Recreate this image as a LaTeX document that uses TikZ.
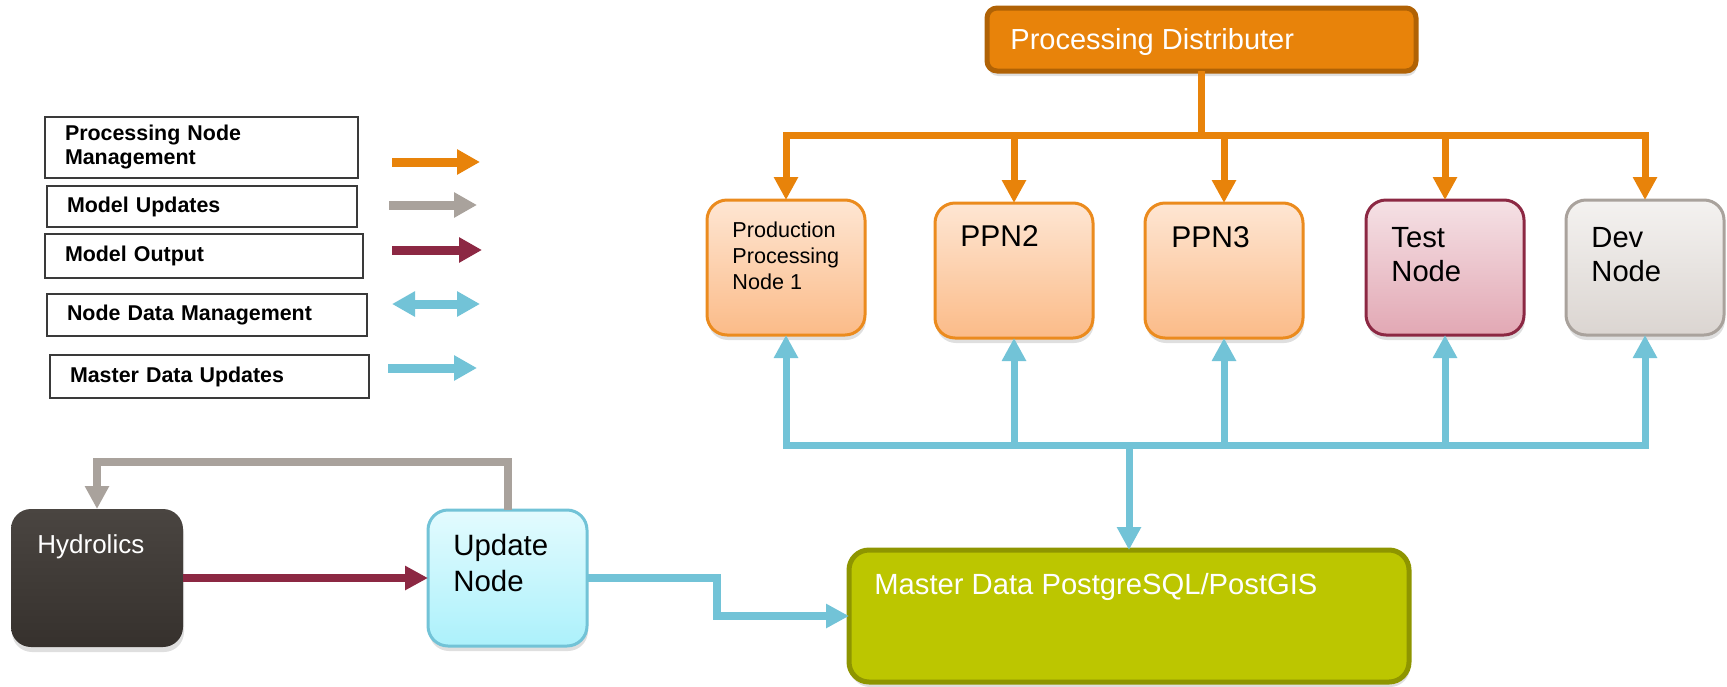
\documentclass[tikz,border=0pt]{standalone}
\usepackage{fontspec}
\setmainfont{Liberation Sans}
\usetikzlibrary{arrows.meta,shadows}
\definecolor{orng}{HTML}{E8830A}
\definecolor{orngdk}{HTML}{B06205}
\definecolor{gry}{HTML}{A9A29C}
\definecolor{mroon}{HTML}{8C2843}
\definecolor{blu}{HTML}{72C3D7}
\definecolor{olive}{HTML}{BCC600}
\definecolor{olivedk}{HTML}{8E9500}
\definecolor{ppnline}{HTML}{EB8B1E}
\definecolor{ppntop}{HTML}{FEE6D3}
\definecolor{ppnbot}{HTML}{FBBB88}
\definecolor{tsttop}{HTML}{F5E1E5}
\definecolor{tstbot}{HTML}{E2A8B4}
\definecolor{devtop}{HTML}{F4F2F0}
\definecolor{devbot}{HTML}{DBD5D1}
\definecolor{hydtop}{HTML}{4A4541}
\definecolor{hydbot}{HTML}{36312D}
\definecolor{updtop}{HTML}{E3FBFE}
\definecolor{updbot}{HTML}{ACF1FB}
\definecolor{legline}{HTML}{3A3A3A}
\tikzset{
  cbox/.style={anchor=north west, inner sep=0pt, outer sep=0pt, rounded corners=10pt, line width=1.5pt,
    drop shadow={shadow xshift=0.5pt, shadow yshift=-2.5pt, opacity=0.25}},
  ppnbox/.style={cbox, draw=ppnline, top color=ppntop, bottom color=ppnbot,
    minimum width=79pt, minimum height=67.5pt},
  legbox/.style={anchor=north west, draw=legline, line width=1pt, inner xsep=10pt, inner ysep=0pt,
    outer sep=0pt, align=left, font=\fontsize{10.7pt}{12pt}\selectfont\bfseries},
  txt/.style={anchor=base west, inner sep=0pt, align=left},
  wire/.style={line width=3.5pt},
  conn/.style={wire, -{Triangle[width=11.5pt,length=11.5pt]}},
  legarr/.style={line width=4.5pt, -{Triangle[width=12pt,length=11.5pt]}},
  legboth/.style={line width=4.5pt, {Triangle[width=12pt,length=11.5pt]}-{Triangle[width=12pt,length=11.5pt]}}
}
\def\LG#1#2#3#4#5{\node[legbox, text width=#3, minimum height=#4] (#1) at #2 {#5};}

\begin{document}
\begin{tikzpicture}[x=0.5pt,y=-0.5pt]
\useasboundingbox (0,0) rectangle (1727,686);

% legend
\LG{lgpnm}{(45,117)}{136.5pt}{30.5pt}{Processing Node\\Management}
\LG{lgmu}{(47,186)}{135pt}{20.5pt}{Model Updates}
\LG{lgmo}{(45,234)}{139pt}{22pt}{Model Output}
\LG{lgndm}{(47,294)}{140pt}{21pt}{Node Data Management}
\LG{lgmdu}{(50,355)}{139.5pt}{21.5pt}{Master Data Updates}
\foreach \n/\xa/\xb/\y/\c/\s in {1/392/480/162/orng/legarr, 2/389/477/205/gry/legarr,
    3/392/482/250/mroon/legarr, 4/392/480/304/blu/legboth, 5/388/477/368/blu/legarr}{
  \coordinate (la\n) at (\xa,\y);
  \coordinate (lb\n) at (\xb,\y);
  \draw[\s,\c] (la\n) -- (lb\n);
}

% processing nodes
\node[cbox, draw=orngdk, fill=orng, line width=2.5pt, rounded corners=5pt,
  minimum width=214.5pt, minimum height=31.5pt] (dist) at (987,8) {};
\node[txt, text=white, font=\fontsize{14.5pt}{17pt}\selectfont] (distT) at (1010,49) {Processing Distributer};
\node[ppnbox] (ppn1) at (707,200) {};
\node[ppnbox] (ppn2) at (935,203) {};
\node[ppnbox] (ppn3) at (1145,203) {};
\node[cbox, draw=mroon, top color=tsttop, bottom color=tstbot,
  minimum width=79pt, minimum height=67.5pt] (test) at (1366,200) {};
\node[cbox, draw=gry, top color=devtop, bottom color=devbot,
  minimum width=79pt, minimum height=67.5pt] (dev) at (1566,200) {};
% multi-line labels sit on their last line
\node[txt, font=\fontsize{10.8pt}{13pt}\selectfont] (ppn1T) at (732,289) {Production\\Processing\\Node 1};
\node[txt, font=\fontsize{15pt}{17pt}\selectfont] (ppn2T) at (960,246) {PPN2};
\node[txt, font=\fontsize{15pt}{17pt}\selectfont] (ppn3T) at (1171,247) {PPN3};
\node[txt, font=\fontsize{14.6pt}{17pt}\selectfont] (testT) at (1391,281) {Test\\Node};
\node[txt, font=\fontsize{14.6pt}{17pt}\selectfont] (devT) at (1591,281) {Dev\\Node};

% data side
\node[cbox, draw=olivedk, fill=olive, line width=2.5pt,
  minimum width=280pt, minimum height=66pt] (master) at (849,550) {};
\node[txt, text=white, font=\fontsize{14.6pt}{17pt}\selectfont] (masterT) at (874,594) {Master Data PostgreSQL/PostGIS};
\node[cbox, top color=hydtop, bottom color=hydbot,
  minimum width=86pt, minimum height=69pt] (hyd) at (11,509) {};
\node[txt, text=white, font=\fontsize{13pt}{15pt}\selectfont] (hydT) at (37,553) {Hydrolics};
\node[cbox, draw=blu, top color=updtop, bottom color=updbot,
  minimum width=79.5pt, minimum height=68pt] (upd) at (428,510) {};
\node[txt, font=\fontsize{14.7pt}{18pt}\selectfont] (updT) at (453,591) {Update\\Node};

% management tree
\coordinate (obar) at (dist.south |- 0,135);
\draw[wire, orng] (dist.south) -- (obar);
\foreach \t in {ppn1,ppn2,ppn3,test,dev}
  \draw[conn, orng] (obar) -| (\t.north);

% data tree
\coordinate (bbar) at (master.north |- 0,445);
\foreach \t in {ppn1,ppn2,ppn3,test,dev}
  \draw[conn, blu] (bbar) -| (\t.south);
\draw[conn, blu] (bbar) -- (master.north);

% model loop
\coordinate (gtop) at (hyd.north |- 0,462);
\coordinate (bstep) at (717,600);
\draw[conn, mroon, line width=4pt] (hyd.east) -- (upd.west);
\draw[conn, gry, line width=4pt] (upd.north) |- (gtop) -- (hyd.north);
\draw[conn, blu, line width=4pt] (upd.east) -| (bstep) |- (master.west);
\end{tikzpicture}
\end{document}
